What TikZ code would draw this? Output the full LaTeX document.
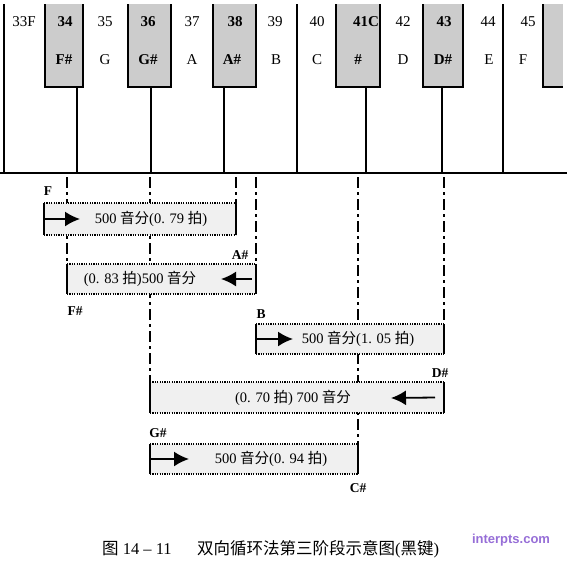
\documentclass[tikz,border=0pt]{standalone}
\usepackage{fontspec}
\setmainfont{Liberation Serif}
\newfontfamily\cjk{Noto Sans CJK SC}
\newfontfamily\wmfont{Liberation Sans}
\usetikzlibrary{arrows.meta}
\definecolor{wmpurple}{RGB}{150,110,215}
\newcommand\bkey[3]{% name, x1, x2
  \fill[blackkey] (#2,4) rectangle (#3,87);
  \draw[keyedge] (#2,4) -- (#2,87) -- (#3,87) -- (#3,4);
  \coordinate (#1) at ({(#2+#3)/2},87);
}
\newcommand\mybar[5]{% name, x1, y1, x2, y2
  \node[barfill, minimum width={#4-#2}, minimum height={#5-#3}] (#1) at ({(#2+#4)/2},{(#3+#5)/2}) {};
  \draw[bardot] (#1.north west) -- (#1.north east) (#1.south west) -- (#1.south east);
  \draw[barside] (#1.north west) -- (#1.south west) (#1.north east) -- (#1.south east);
}
\begin{document}
\begin{tikzpicture}[x=1pt,y=-1pt,
  keyline/.style={line width=2pt},
  blackkey/.style={fill=gray!40},
  keyedge/.style={line width=2.2pt},
  klab/.style={font=\fontsize{15}{18}\selectfont, inner sep=0pt},
  kblab/.style={font=\fontsize{15}{18}\selectfont\bfseries, inner sep=0pt},
  ddash/.style={line width=1.6pt, dash pattern=on 11pt off 4pt on 3pt off 4pt},
  barfill/.style={fill=gray!12, draw=none, inner sep=0pt, outer sep=0pt},
  bardot/.style={line width=1.3pt, dash pattern=on 1.2pt off 1.2pt},
  barside/.style={line width=1.8pt},
  btext/.style={font=\fontsize{14.5}{17}\selectfont, inner sep=0pt},
  elab/.style={font=\fontsize{13.5}{16}\selectfont\bfseries, inner sep=0pt},
  arr/.style={line width=1.8pt, -{Latex[length=15pt,width=15pt]}},
  captext/.style={font=\fontsize{16.5}{20}\selectfont, inner sep=0pt, anchor=west},
]
\useasboundingbox (0,0) rectangle (567,563);

% ---------- keyboard ----------
\bkey{k34}{45}{83}
\bkey{k36}{128}{171}
\bkey{k38}{213}{256}
\bkey{k41}{336}{380}
\bkey{k43}{423}{463}
% partial key 45
\fill[blackkey] (543,4) rectangle (563,87);
\draw[keyedge] (543,4) -- (543,87) -- (563,87);

\coordinate (base w) at (0,173);
\coordinate (base e) at (567,173);
\draw[line width=2.4pt] (base w) -- (base e);
\draw[keyline] (4,4) -- (4,173);
\draw[keyline] (297,4) -- (297,173);
\draw[keyline] (503,4) -- (503,173);
\draw[keyline] (77,87) -- (77,173);
\draw[keyline] (151,87) -- (151,173);
\draw[keyline] (224,87) -- (224,173);
\draw[keyline] (366,87) -- (366,173);
\draw[keyline] (442,87) -- (442,173);

% key labels
\node[klab]  (n33) at (24,22) {33F};
\node[kblab] (n34) at (65,22) {34};
\node[klab]  (n35) at (105,22) {35};
\node[kblab] (n36) at (148,22) {36};
\node[klab]  (n37) at (192,22) {37};
\node[kblab] (n38) at (235,22) {38};
\node[klab]  (n39) at (275,22) {39};
\node[klab]  (n40) at (317,22) {40};
\node[kblab] (n41) at (366,22) {41C};
\node[klab]  (n42) at (403,22) {42};
\node[kblab] (n43) at (444,22) {43};
\node[klab]  (n44) at (488,22) {44};
\node[klab]  (n45) at (528,22) {45};

\node[kblab] (mFs) at (64,60) {F\#};
\node[klab]  (mG)  at (105,60) {G};
\node[kblab] (mGs) at (148,60) {G\#};
\node[klab]  (mA)  at (192,60) {A};
\node[kblab] (mAs) at (232,60) {A\#};
\node[klab]  (mB)  at (276,60) {B};
\node[klab]  (mC)  at (317,60) {C};
\node[kblab] (mCs) at (358,60) {\#};
\node[klab]  (mD)  at (403,60) {D};
\node[kblab] (mDs) at (443,60) {D\#};
\node[klab]  (mE)  at (489,60) {E};
\node[klab]  (mF)  at (523,60) {F};

% ---------- dash-dot guide lines ----------
\coordinate (g67)  at (67,177);
\coordinate (g150) at (150,177);
\coordinate (g236) at (236,177);
\coordinate (g256) at (256,177);
\coordinate (g358) at (358,177);
\coordinate (g444) at (444,177);
\coordinate (e67)  at (67,264);
\coordinate (e150) at (150,382);
\coordinate (e236) at (236,203);
\coordinate (e256) at (256,264);
\coordinate (e358) at (358,444);
\coordinate (e444) at (444,324);
\draw[ddash] (g67) -- (e67);
\draw[ddash] (g150) -- (e150);
\draw[ddash] (g236) -- (e236);
\draw[ddash] (g256) -- (e256);
\draw[ddash] (g358) -- (e358);
\draw[ddash] (g444) -- (e444);

% ---------- bars ----------
\mybar{b1}{44}{203}{236}{235}
\mybar{b2}{67}{264}{256}{294}
\mybar{b3}{256}{324}{444}{354}
\mybar{b4}{150}{382}{444}{413}
\mybar{b5}{150}{444}{358}{474}

\node[btext] (t1) at (151,219) {500 {\cjk 音分}(0. 79 {\cjk 拍})};
\node[btext] (t2) at (140,279) {(0. 83 {\cjk 拍})500 {\cjk 音分}};
\node[btext] (t3) at (358,339) {500 {\cjk 音分}(1. 05 {\cjk 拍})};
\node[btext] (t4) at (293,398) {(0. 70 {\cjk 拍}) 700 {\cjk 音分}};
\node[btext] (t5) at (271,459) {500 {\cjk 音分}(0. 94 {\cjk 拍})};

% arrows
\coordinate (a1) at (80,219);
\coordinate (a2) at (221,279);
\coordinate (a3) at (293,339);
\coordinate (a4) at (391,398);
\coordinate (a5) at (189,459);
\draw[arr] (b1.west) -- (a1);
\draw[arr] ([xshift=-4pt]b2.east) -- (a2);
\draw[arr] (b3.west) -- (a3);
\draw[arr] ([xshift=-9pt]b4.east) -- (a4);
\draw[arr] (b5.west) -- (a5);

% end labels
\node[elab] (lF)  at (48,191) {F};
\node[elab] (lAs) at (240,255) {A\#};
\node[elab] (lFs) at (75,311) {F\#};
\node[elab] (lB)  at (261,314) {B};
\node[elab] (lDs) at (440,373) {D\#};
\node[elab] (lGs) at (158,433) {G\#};
\node[elab] (lCs) at (358,488) {C\#};

% caption
\node[captext] (cap1) at (102,549) {{\cjk 图} 14 – 11};
\node[captext] (cap2) at (197,549) {{\cjk 双向循环法第三阶段示意图}({\cjk 黑键})};

% watermark text
\node[font=\wmfont\bfseries\fontsize{13}{15}\selectfont, text=wmpurple, inner sep=0pt] (wm) at (511,540) {interpts.com};
\end{tikzpicture}
\end{document}
